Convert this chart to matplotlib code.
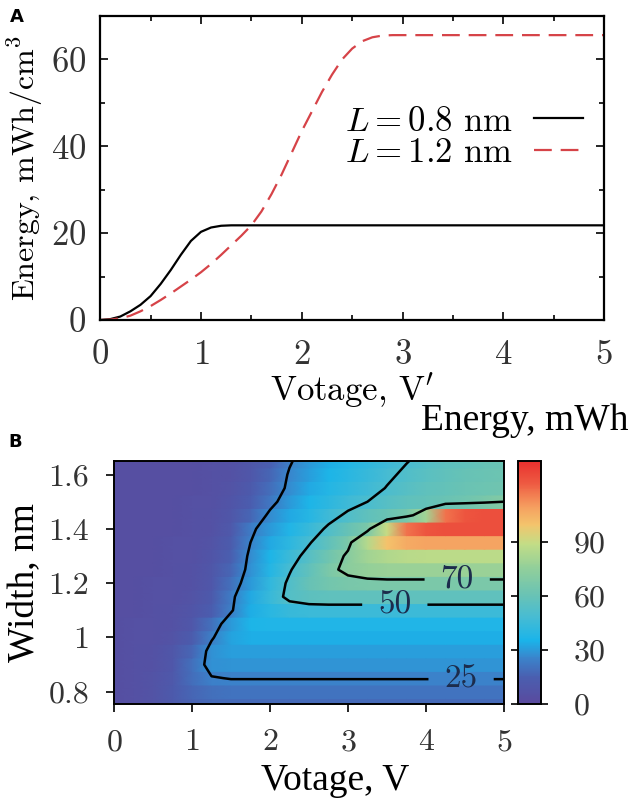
import matplotlib
matplotlib.use('Agg')
import matplotlib.pyplot as plt
import numpy as np
from matplotlib.colors import LinearSegmentedColormap
from matplotlib.ticker import MultipleLocator, FixedLocator

plt.rcParams['font.family'] = ['cmr10', 'DejaVu Serif']
plt.rcParams['mathtext.fontset'] = 'cm'
plt.rcParams['axes.formatter.use_mathtext'] = True

# panel A: energy vs voltage
v_08 = [0, 0.1, 0.2, 0.3, 0.4, 0.5, 0.6, 0.7, 0.8, 0.9, 1.0, 1.1, 1.2, 1.3, 1.5, 5.0]
e_08 = [0, 0.2, 0.8, 2.0, 3.5, 5.5, 8.3, 11.5, 15.0, 18.2, 20.3, 21.3, 21.7, 21.8, 21.8, 21.8]
v_12 = [0, 0.1, 0.2, 0.3, 0.4, 0.5, 0.6, 0.7, 0.8, 0.9, 1.0, 1.1, 1.2, 1.3, 1.4, 1.5,
        1.6, 1.7, 1.8, 1.9, 2.0, 2.1, 2.2, 2.3, 2.4, 2.5, 2.6, 2.7, 2.8, 2.9, 3.0, 5.0]
e_12 = [0, 0.1, 0.4, 1.0, 2.0, 3.2, 4.6, 6.1, 7.7, 9.3, 11.0, 12.9, 15.0, 17.2, 19.4, 21.8,
        25.0, 29.0, 33.5, 38.5, 43.5, 48.0, 52.5, 56.5, 60.0, 62.5, 64.2, 65.1, 65.5, 65.6, 65.6, 65.6]
legend_labels = [r'$L = 0.8$ nm', r'$L = 1.2$ nm']

# panel B: energy map, rows = width, columns = voltage
volt = [0, 0.25, 0.5, 0.75, 1.0, 1.25, 1.5, 1.75, 2.0, 2.25, 2.5, 2.75, 3.0, 3.25, 3.5,
        3.75, 4.0, 4.25, 4.5, 4.75, 5.0]
width = [0.75, 0.80, 0.85, 0.90, 0.95, 1.00, 1.05, 1.10, 1.15, 1.20, 1.25, 1.30, 1.35,
         1.40, 1.45, 1.50, 1.55, 1.60, 1.65]
energy = [
    [4, 5, 7, 12, 16, 18, 18, 18, 18, 18, 18, 18, 18, 18, 18, 18, 18, 18, 18, 18, 18],
    [4, 5, 7, 12, 17, 20, 21, 21, 21, 21, 21, 21, 21, 21, 21, 21, 21, 21, 21, 21, 21],
    [4, 5, 7, 11, 19, 24.5, 25.3, 25.3, 25.3, 25.3, 25.3, 25.3, 25.3, 25.3, 25.3, 25.3, 25.3, 25.3, 25.3, 25.3, 25.3],
    [4, 5, 6, 10, 20, 28, 29, 29, 29, 29, 29, 29, 29, 29, 29, 29, 29, 29, 29, 29, 29],
    [4, 5, 6, 9, 17, 28, 31, 31, 31, 31, 31, 31, 31, 31, 31, 31, 31, 31, 31, 31, 31],
    [4, 5, 5, 7, 13, 24, 32, 34, 34, 34, 34, 34, 34, 34, 34, 34, 34, 34, 34, 34, 34],
    [4, 5, 5, 6, 10, 20, 30, 36, 37, 37, 37, 37, 37, 37, 37, 37, 37, 37, 37, 37, 37],
    [4, 4, 5, 6, 8, 14, 24, 34, 40, 44, 45, 45, 45, 45, 45, 45, 45, 45, 45, 45, 45],
    [4, 4, 5, 5, 7, 12, 23, 33, 44, 53, 56, 57, 57, 57, 57, 57, 57, 57, 57, 57, 57],
    [4, 4, 5, 5, 6, 10, 20, 30, 42, 52, 60, 64, 66, 67, 67, 67, 67, 67, 67, 67, 67],
    [4, 4, 4, 5, 6, 9, 17, 28, 38, 49, 58, 67, 73, 76, 78, 78, 78, 78, 78, 78, 78],
    [4, 4, 4, 5, 5, 8, 15, 27, 36, 45, 54, 63, 72, 80, 84, 86, 87, 87, 87, 87, 87],
    [4, 4, 4, 5, 5, 7, 13, 25, 33, 41, 49, 58, 67, 85, 100, 106, 108, 108, 108, 108, 108],
    [4, 4, 4, 4, 5, 6, 11, 23, 30, 37, 44, 52, 60, 67, 90, 118, 124, 126, 126, 126, 126],
    [4, 4, 4, 4, 5, 6, 9, 17, 27, 33, 39, 46, 52, 57, 61, 65, 80, 118, 124, 126, 126],
    [4, 4, 4, 4, 5, 5, 8, 14, 22, 30, 36, 41, 46, 50, 54, 57, 59, 61, 63, 66, 70],
    [4, 4, 4, 4, 4, 5, 7, 12, 19, 27, 33, 38, 42, 46, 50.5, 54, 57, 59, 61, 62, 63],
    [4, 4, 4, 4, 4, 5, 6, 10, 17, 26, 31, 36, 40, 44, 48, 52, 55, 58, 60, 61, 62],
    [4, 4, 4, 4, 4, 5, 6, 9, 15, 24, 30, 34, 38, 42, 46, 49.5, 53, 56, 58, 60, 61],
]
levels = [25, 50, 70]
label_pos = [(4.45, 0.845), (3.6, 1.12), (4.4, 1.215)]
cbar_ticks = [0, 30, 60, 90]
w_ticks = [0.8, 1.0, 1.2, 1.4, 1.6]
w_ticklabels = ['0.8', '1', '1.2', '1.4', '1.6']

cmap = LinearSegmentedColormap.from_list('energy', [
    (0.0, '#5a4a9e'), (0.11, '#4a5fb0'), (0.19, '#3a85cc'), (0.26, '#1ab4ea'),
    (0.36, '#48bcd2'), (0.45, '#6ac3b4'), (0.56, '#92cf9a'), (0.66, '#c3dd86'),
    (0.74, '#f4c46c'), (0.82, '#f59a5e'), (0.91, '#ee5a42'), (1.0, '#e8302e')])

fig = plt.figure(figsize=(6.3, 8.01), dpi=100)
tick_col = '#333333'
times = ['Liberation Serif', 'DejaVu Serif']

# ---- panel A
ax = fig.add_axes([0.159, 0.6005, 0.8, 0.3795])
ax.plot(v_08, e_08, color='black', lw=1.6, label=legend_labels[0])
ax.plot(v_12, e_12, color='#d64348', lw=1.6, dashes=(8, 4), label=legend_labels[1])
ax.set_xlim(0, 5)
ax.set_ylim(0, 70)
ax.xaxis.set_major_locator(MultipleLocator(1))
ax.xaxis.set_minor_locator(MultipleLocator(0.5))
ax.yaxis.set_major_locator(MultipleLocator(20))
ax.yaxis.set_minor_locator(MultipleLocator(10))
ax.tick_params(which='both', direction='in', top=True, right=True, width=1.2,
               labelsize=25, labelcolor=tick_col)
ax.tick_params(axis='x', pad=14)
ax.tick_params(axis='y', pad=10)
ax.tick_params(which='major', length=6)
ax.tick_params(which='minor', length=3.5)
for s in ax.spines.values():
    s.set_linewidth(1.6)
ax.set_xlabel(r'Votage, V$^{\prime}$', fontsize=25, labelpad=0)
ax.set_ylabel(r'Energy, mWh/cm$^3$', fontsize=23, labelpad=4)
ax.legend(loc='center right', bbox_to_anchor=(0.985, 0.60), frameon=False,
          markerfirst=False, fontsize=25, handlelength=1.4, handletextpad=0.6,
          labelspacing=0.0, borderaxespad=0)
fig.text(0.016, 0.973, 'A', fontsize=13, fontweight='bold', family='DejaVu Sans')

# ---- panel B
bx = fig.add_axes([0.181, 0.1211, 0.619, 0.3034])
half = 0.025
for w, row in zip(width, energy):
    mesh = bx.pcolormesh(volt, [w - half, w + half], [row, row], cmap=cmap,
                         vmin=0, vmax=135, shading='gouraud', rasterized=True)
cs = bx.contour(volt, width, energy, levels=levels, colors='black', linewidths=1.8)
bx.clabel(cs, fmt='%d', inline=True, inline_spacing=16, fontsize=24,
          colors='#1c2c4c', manual=label_pos)
bx.set_xlim(0, 5)
bx.set_ylim(0.755, 1.65)
bx.xaxis.set_major_locator(MultipleLocator(1))
bx.yaxis.set_major_locator(FixedLocator(w_ticks))
bx.set_yticklabels(w_ticklabels)
bx.tick_params(direction='out', length=6, width=1.2, labelsize=23,
               labelcolor=tick_col, pad=12)
for s in bx.spines.values():
    s.set_linewidth(1.4)
bx.set_xlabel('Votage, V', fontsize=27, family=times)
bx.xaxis.set_label_coords(0.567, -0.245)
bx.set_ylabel('Width, nm', fontsize=27, family=times, labelpad=5)
fig.text(0.013, 0.442, 'B', fontsize=13, fontweight='bold', family='DejaVu Sans')

cax = fig.add_axes([0.822, 0.1211, 0.037, 0.3034])
cb = fig.colorbar(mesh, cax=cax)
cb.set_ticks(cbar_ticks)
cb.outline.set_linewidth(1.4)
cax.tick_params(direction='out', length=5, width=1.2, left=True, right=True,
                labelsize=23, labelcolor=tick_col, pad=18)
fig.text(0.998, 0.463, 'Energy, mWh', fontsize=27, family=times, ha='right',
         va='baseline')

fig.savefig('out.png', dpi=100)
